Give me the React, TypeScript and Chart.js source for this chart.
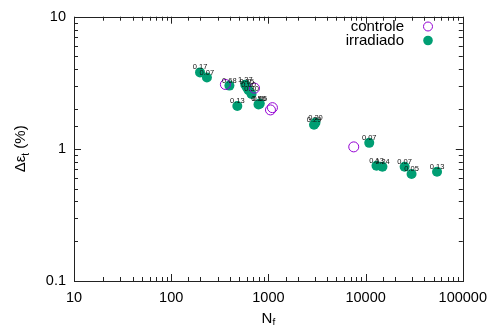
import React, { useEffect, useRef } from "react";
import { Chart, registerables } from "chart.js";

Chart.register(...registerables);

// Fatigue data: cycles to failure N_f vs. total strain range Δε_t (%)
const controleN = [361, 720, 1050, 1100, 7550];
const controleStrain = [3.07, 2.88, 1.97, 2.05, 1.035];

const irradiadoN = [198, 233, 397, 578, 600, 625, 671, 479, 791, 815, 2946, 3050, 10900, 12950, 14900, 25200, 29700, 54300];
const irradiadoStrain = [3.79, 3.47, 3.01, 3.06, 2.92, 2.78, 2.6, 2.11, 2.17, 2.2, 1.52, 1.58, 1.11, 0.745, 0.733, 0.733, 0.646, 0.671];
const irradiadoLabels = ["0.17", "0.07", "0.68", "1.37", "0.75", "0.60", "0.30", "0.13", "0.55", "0.66", "0.29", "0.20", "0.07", "0.13", "0.24", "0.07", "0.05", "0.13"];

const xTickLabels = ["10", "100", "1000", "10000", "100000"];
const yTickLabels = ["0.1", "1", "10"];

const seriesNames = ["controle", "irradiado"];
const PURPLE = "#9400d3";
const GREEN = "#009e73";
const FONT = "'Liberation Sans', Arial, sans-serif";

const isDecade = (v: number) => Math.abs(Math.log10(v) - Math.round(Math.log10(v))) < 1e-6;

const framePlugin = {
  id: "gnuFrame",
  beforeDatasetsDraw(chart: any) {
    const { ctx, chartArea: a } = chart;
    const xs = chart.scales.x;
    const ys = chart.scales.y;
    ctx.save();
    ctx.strokeStyle = "#222";
    ctx.lineWidth = 1;
    ctx.beginPath();
    // inward ticks on all four sides
    for (const t of xs.ticks) {
      const px = Math.round(xs.getPixelForValue(t.value)) + 0.5;
      const len = isDecade(t.value) ? 7 : 4;
      ctx.moveTo(px, a.bottom);
      ctx.lineTo(px, a.bottom - len);
      ctx.moveTo(px, a.top);
      ctx.lineTo(px, a.top + len);
    }
    for (const t of ys.ticks) {
      const py = Math.round(ys.getPixelForValue(t.value)) + 0.5;
      const len = isDecade(t.value) ? 7 : 4;
      ctx.moveTo(a.left, py);
      ctx.lineTo(a.left + len, py);
      ctx.moveTo(a.right, py);
      ctx.lineTo(a.right - len, py);
    }
    ctx.stroke();
    ctx.strokeRect(Math.round(a.left) + 0.5, Math.round(a.top) + 0.5, Math.round(a.right - a.left), Math.round(a.bottom - a.top));
    ctx.restore();
  },
  afterDatasetsDraw(chart: any) {
    const { ctx, chartArea: a } = chart;
    ctx.save();
    // value labels above the irradiado points
    const meta = chart.getDatasetMeta(1);
    ctx.fillStyle = "#111";
    ctx.font = `7.5px ${FONT}`;
    ctx.textAlign = "center";
    ctx.textBaseline = "middle";
    meta.data.forEach((el: any, i: number) => {
      ctx.fillText(irradiadoLabels[i], el.x, el.y - 5);
    });

    // legend
    ctx.font = `15px ${FONT}`;
    ctx.textAlign = "right";
    ctx.fillStyle = "#000";
    const rows = [26.5, 40.5];
    ctx.fillText(seriesNames[0], 404, rows[0]);
    ctx.fillText(seriesNames[1], 404, rows[1]);
    ctx.beginPath();
    ctx.arc(428, rows[0], 4.5, 0, Math.PI * 2);
    ctx.strokeStyle = PURPLE;
    ctx.lineWidth = 1;
    ctx.stroke();
    ctx.beginPath();
    ctx.arc(428, rows[1], 4.8, 0, Math.PI * 2);
    ctx.fillStyle = GREEN;
    ctx.fill();

    // axis titles with subscripts
    ctx.fillStyle = "#000";
    ctx.textBaseline = "alphabetic";
    ctx.textAlign = "left";
    const xc = (a.left + a.right) / 2;
    ctx.font = `15px ${FONT}`;
    const wN = ctx.measureText("N").width;
    ctx.font = `10px ${FONT}`;
    const wf = ctx.measureText("f").width;
    const x0 = xc - (wN + wf) / 2;
    ctx.font = `15px ${FONT}`;
    ctx.fillText("N", x0, 323);
    ctx.font = `10px ${FONT}`;
    ctx.fillText("f", x0 + wN, 326);

    ctx.translate(25, (a.top + a.bottom) / 2);
    ctx.rotate(-Math.PI / 2);
    ctx.font = `15px ${FONT}`;
    const p1 = "Δε";
    const p3 = " (%)";
    const w1 = ctx.measureText(p1).width;
    const w3 = ctx.measureText(p3).width;
    ctx.font = `10px ${FONT}`;
    const w2 = ctx.measureText("t").width;
    const s = -(w1 + w2 + w3) / 2;
    ctx.font = `15px ${FONT}`;
    ctx.fillText(p1, s, 0);
    ctx.font = `10px ${FONT}`;
    ctx.fillText("t", s + w1, 4);
    ctx.font = `15px ${FONT}`;
    ctx.fillText(p3, s + w1 + w2, 0);
    ctx.restore();
  },
};

export default function App() {
  const ref = useRef<HTMLCanvasElement | null>(null);

  useEffect(() => {
    if (!ref.current) return;
    const chart = new Chart(ref.current, {
      type: "scatter",
      data: {
        datasets: [
          {
            label: seriesNames[0],
            data: controleN.map((n, i) => ({ x: n, y: controleStrain[i] })),
            backgroundColor: "rgba(0,0,0,0)",
            borderColor: PURPLE,
            borderWidth: 1,
            pointRadius: 5,
          },
          {
            label: seriesNames[1],
            data: irradiadoN.map((n, i) => ({ x: n, y: irradiadoStrain[i] })),
            backgroundColor: GREEN,
            borderColor: GREEN,
            borderWidth: 0,
            pointRadius: 5,
          },
        ],
      },
      options: {
        responsive: false,
        animation: false,
        layout: { padding: { top: 14, right: 30, left: 0, bottom: 0 } },
        plugins: { legend: { display: false }, tooltip: { enabled: false } },
        scales: {
          x: {
            type: "logarithmic",
            min: 10,
            max: 100000,
            grid: { display: false, drawTicks: false },
            border: { display: false },
            afterFit: (s: any) => { s.height = 44; },
            ticks: {
              autoSkip: false,
              maxRotation: 0,
              padding: 8,
              color: "#000",
              font: { family: FONT, size: 14.5 },
              callback: (v: any) => {
                const val = Number(v);
                if (!isDecade(val)) return "";
                return xTickLabels[Math.round(Math.log10(val)) - 1] ?? "";
              },
            },
          },
          y: {
            type: "logarithmic",
            min: 0.1,
            max: 10,
            grid: { display: false, drawTicks: false },
            border: { display: false },
            afterFit: (s: any) => { s.width = 74; },
            ticks: {
              autoSkip: false,
              padding: 8,
              color: "#000",
              font: { family: FONT, size: 14.5 },
              callback: (v: any) => {
                const val = Number(v);
                if (!isDecade(val)) return "";
                return yTickLabels[Math.round(Math.log10(val)) + 1] ?? "";
              },
            },
          },
        },
      },
      plugins: [framePlugin],
    });
    return () => chart.destroy();
  }, []);

  return (
    <div style={{ position: "absolute", left: 0, top: 0, width: 495, height: 325, background: "#fff" }}>
      <canvas ref={ref} width={495} height={325} />
    </div>
  );
}
